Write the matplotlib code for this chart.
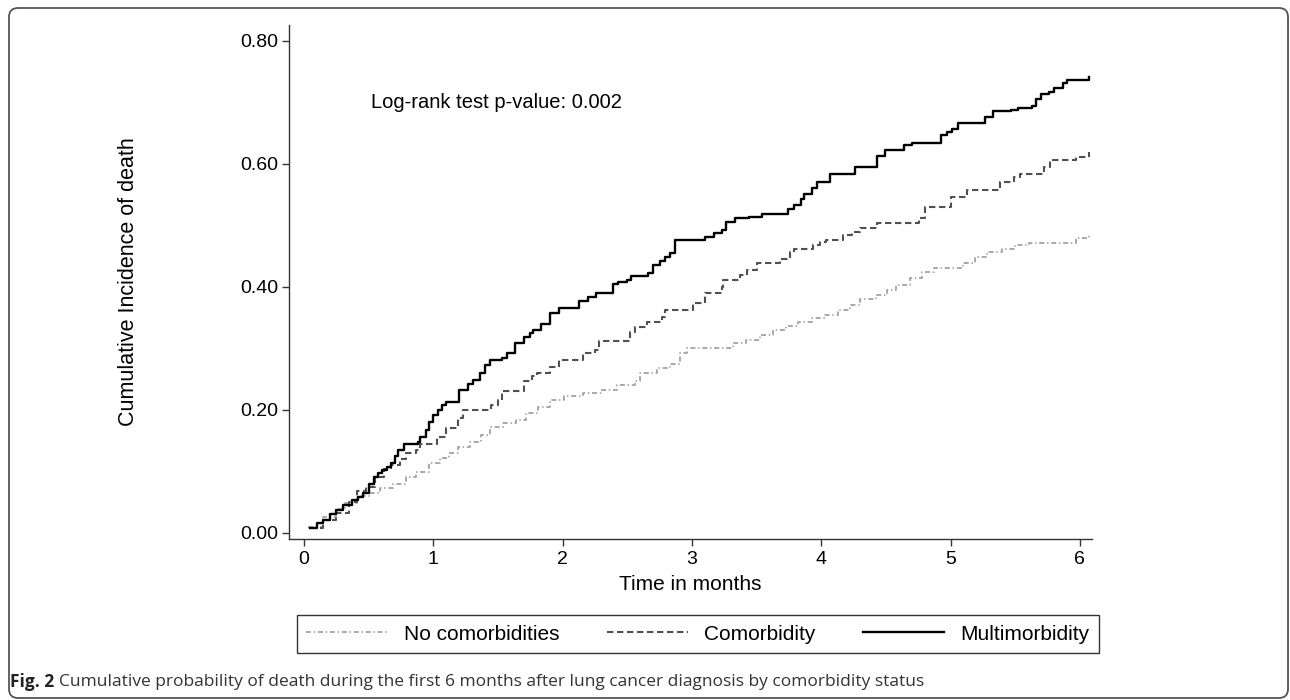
import matplotlib
matplotlib.use("Agg")
import matplotlib.pyplot as plt
from matplotlib.patches import FancyBboxPatch
from matplotlib.transforms import IdentityTransform

# ---------------- data ----------------
multi_t = [0.05, 0.10, 0.15, 0.20, 0.25, 0.30, 0.37, 0.42, 0.46, 0.50, 0.54, 0.57, 0.60, 0.64, 0.67,
           0.70, 0.73, 0.77, 0.88, 0.90, 0.94, 0.97, 1.00, 1.04, 1.07, 1.10, 1.20, 1.27, 1.31, 1.36,
           1.40, 1.44, 1.53, 1.57, 1.63, 1.70, 1.75, 1.77, 1.83, 1.90, 1.97, 2.13, 2.20, 2.26, 2.39,
           2.43, 2.50, 2.53, 2.66, 2.70, 2.75, 2.79, 2.83, 2.87, 3.10, 3.17, 3.23, 3.26, 3.33, 3.44,
           3.54, 3.74, 3.79, 3.84, 3.87, 3.93, 3.97, 4.07, 4.26, 4.43, 4.49, 4.64, 4.70, 4.93, 4.97,
           5.01, 5.06, 5.27, 5.33, 5.47, 5.52, 5.63, 5.66, 5.70, 5.76, 5.80, 5.87, 5.90, 6.07]
multi_v = [0.008, 0.015, 0.021, 0.030, 0.037, 0.045, 0.053, 0.058, 0.064, 0.080, 0.091, 0.097, 0.102,
           0.107, 0.113, 0.124, 0.135, 0.145, 0.148, 0.156, 0.167, 0.180, 0.191, 0.200, 0.208, 0.213,
           0.232, 0.242, 0.248, 0.259, 0.273, 0.281, 0.284, 0.292, 0.308, 0.319, 0.325, 0.330, 0.340,
           0.357, 0.365, 0.377, 0.384, 0.390, 0.404, 0.408, 0.411, 0.418, 0.422, 0.435, 0.441, 0.448,
           0.454, 0.476, 0.481, 0.487, 0.492, 0.506, 0.511, 0.514, 0.519, 0.527, 0.533, 0.542, 0.551,
           0.560, 0.571, 0.583, 0.595, 0.613, 0.622, 0.630, 0.634, 0.647, 0.652, 0.657, 0.666, 0.676,
           0.685, 0.688, 0.690, 0.694, 0.706, 0.713, 0.717, 0.723, 0.732, 0.736, 0.741]

comorb_t = [0.05, 0.15, 0.25, 0.35, 0.41, 0.48, 0.55, 0.62, 0.67, 0.74, 0.79, 0.87, 0.90, 1.03, 1.10,
            1.19, 1.23, 1.45, 1.50, 1.53, 1.70, 1.76, 1.80, 1.90, 1.97, 2.16, 2.25, 2.28, 2.52, 2.56,
            2.65, 2.77, 2.79, 3.01, 3.10, 3.23, 3.24, 3.37, 3.43, 3.50, 3.68, 3.76, 3.79, 3.94, 3.99,
            4.04, 4.17, 4.24, 4.30, 4.43, 4.76, 4.80, 5.00, 5.13, 5.38, 5.49, 5.54, 5.72, 5.77, 5.97, 6.07]
comorb_v = [0.008, 0.020, 0.032, 0.050, 0.067, 0.075, 0.090, 0.103, 0.110, 0.120, 0.130, 0.135, 0.145,
            0.156, 0.170, 0.186, 0.200, 0.208, 0.216, 0.231, 0.246, 0.254, 0.260, 0.270, 0.281, 0.292,
            0.297, 0.311, 0.327, 0.335, 0.343, 0.351, 0.362, 0.373, 0.389, 0.400, 0.411, 0.419, 0.427,
            0.439, 0.445, 0.457, 0.462, 0.468, 0.472, 0.476, 0.484, 0.489, 0.495, 0.503, 0.511, 0.530,
            0.546, 0.557, 0.571, 0.578, 0.584, 0.595, 0.606, 0.611, 0.619]

nocom_t = [0.03, 0.15, 0.25, 0.32, 0.41, 0.51, 0.59, 0.69, 0.79, 0.87, 0.97, 1.05, 1.12, 1.19, 1.28,
           1.37, 1.44, 1.54, 1.64, 1.72, 1.81, 1.90, 2.01, 2.16, 2.30, 2.42, 2.56, 2.60, 2.73, 2.83,
           2.91, 2.96, 3.32, 3.42, 3.53, 3.63, 3.73, 3.82, 3.93, 4.03, 4.13, 4.22, 4.30, 4.42, 4.51,
           4.58, 4.69, 4.78, 4.87, 5.10, 5.19, 5.28, 5.40, 5.50, 5.61, 5.97, 6.07]
nocom_v = [0.010, 0.026, 0.038, 0.048, 0.059, 0.064, 0.072, 0.080, 0.091, 0.099, 0.113, 0.121, 0.129,
           0.140, 0.148, 0.159, 0.172, 0.179, 0.184, 0.194, 0.205, 0.216, 0.222, 0.227, 0.232, 0.240,
           0.246, 0.260, 0.267, 0.275, 0.292, 0.300, 0.309, 0.314, 0.321, 0.330, 0.336, 0.343, 0.349,
           0.354, 0.362, 0.370, 0.380, 0.386, 0.395, 0.403, 0.414, 0.424, 0.431, 0.439, 0.449, 0.457,
           0.461, 0.468, 0.471, 0.479, 0.484]

series_labels = ["No comorbidities", "Comorbidity", "Multimorbidity"]
x_ticks = [0, 1, 2, 3, 4, 5, 6]
y_ticks = [0.0, 0.2, 0.4, 0.6, 0.8]
y_ticklabels = ["0.00", "0.20", "0.40", "0.60", "0.80"]
annotation = "Log-rank test p-value: 0.002"
x_title = "Time in months"
y_title = "Cumulative Incidence of death"
caption_bold = "Fig. 2"
caption_rest = "Cumulative probability of death during the first 6 months after lung cancer diagnosis by comorbidity status"

# ---------------- figure ----------------
plt.rcParams["font.family"] = ["Liberation Sans", "DejaVu Sans"]
plt.rcParams["lines.scale_dashes"] = False

W, H = 1290, 700
fig = plt.figure(figsize=(W / 100, H / 100), dpi=100)

def fx(px):
    return px / W

def fy(py):
    return 1 - py / H

ax_l, ax_r, ax_t, ax_b = 289, 1092, 25, 539
ax = fig.add_axes([fx(ax_l), fy(ax_b), fx(ax_r) - fx(ax_l), fy(ax_t) - fy(ax_b)])

l1, = ax.step(nocom_t, nocom_v, where="post", color="#a3a3a3", lw=1.3,
              dashes=(3.6, 2.0, 1.0, 2.0), label=series_labels[0])
l2, = ax.step(comorb_t, comorb_v, where="post", color="#505050", lw=1.5,
              dashes=(4.6, 2.6), label=series_labels[1])
l3, = ax.step(multi_t, multi_v, where="post", color="black", lw=1.7,
              label=series_labels[2])

ax.set_xlim(-15 / 129.3, (ax_r - 304) / 129.3)
ax.set_ylim((532.7 - ax_b) / 615.0, (532.7 - ax_t) / 615.0)
ax.set_xticks(x_ticks)
ax.set_yticks(y_ticks)
ax.set_yticklabels(y_ticklabels)
for s in ["top", "right"]:
    ax.spines[s].set_visible(False)
for s in ["left", "bottom"]:
    ax.spines[s].set_color("#333333")
    ax.spines[s].set_linewidth(1.0)
ax.tick_params(axis="both", direction="out", length=5, width=1.0, color="#333333",
               labelsize=14, pad=3)
ax.tick_params(axis="x", pad=4)

ax.set_xlabel(x_title, fontsize=15)
ax.xaxis.label.set_va("center")
ax.xaxis.set_label_coords(0.5, (ax_b - 585) / (ax_b - ax_t))
ax.set_ylabel(y_title, fontsize=15.5)
ax.yaxis.label.set_va("center")
ax.yaxis.set_label_coords((128 - ax_l) / (ax_r - ax_l), 0.5)

ax.text(0.52, 0.70, annotation, fontsize=14.5, ha="left", va="center")

leg = fig.legend(handles=[l1, l2, l3], labels=series_labels, ncol=3, mode="expand",
                 bbox_to_anchor=(fx(297), fy(655), fx(1099) - fx(297), fy(613) - fy(655)),
                 loc="center", fontsize=15, handlelength=3.9, handletextpad=0.8,
                 borderaxespad=0, fancybox=False, frameon=True, borderpad=0.45,
                 columnspacing=1.0)
leg.get_frame().set_edgecolor("black")
leg.get_frame().set_linewidth(1.0)

t1 = fig.text(fx(10), fy(682), caption_bold, fontsize=12.5, fontweight="bold",
              family="Open Sans", color="#222222", va="center", ha="left")
fig.canvas.draw()
bb = t1.get_window_extent()
fig.text((bb.x1 + 5) / W, fy(682), caption_rest, fontsize=12.5, family="Open Sans",
         color="#333333", va="center", ha="left")

border = FancyBboxPatch((9, 2), 1279, 690, boxstyle="round,pad=0,rounding_size=9",
                        transform=IdentityTransform(), fill=False, edgecolor="#555555",
                        lw=1.3, figure=fig)
fig.patches.append(border)

fig.savefig("out.png", dpi=100)
